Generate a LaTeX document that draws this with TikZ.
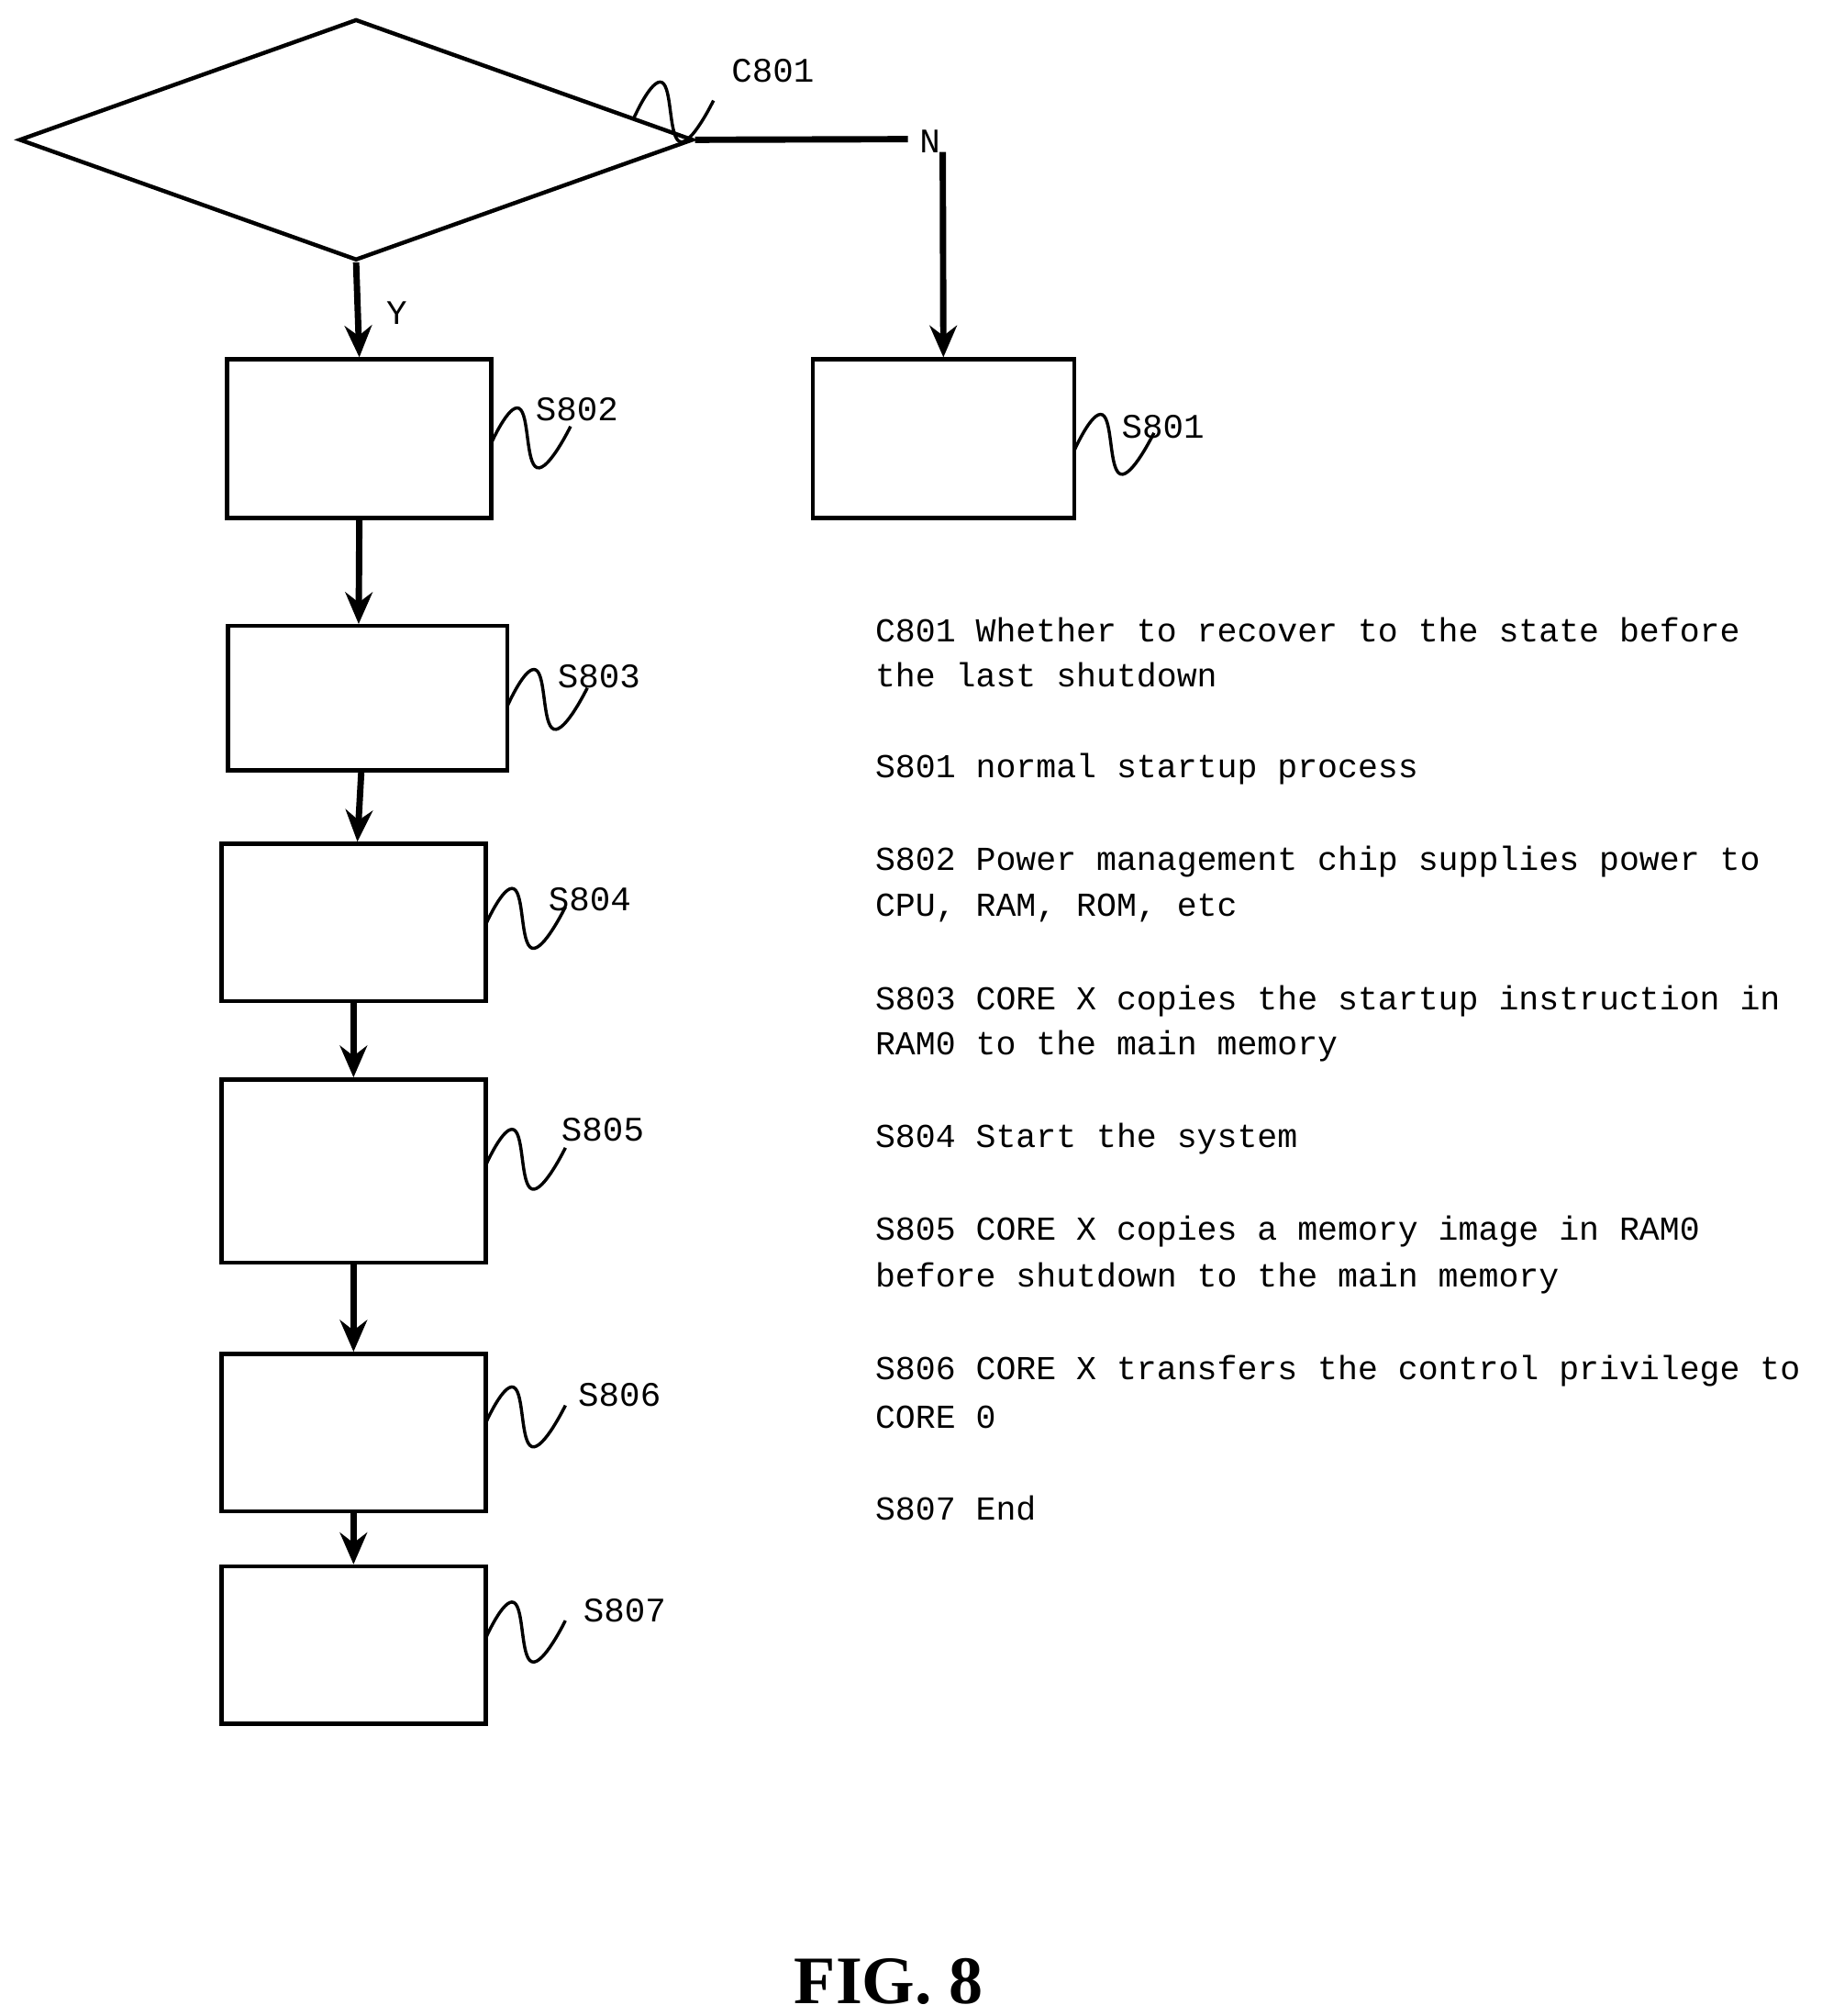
\documentclass[tikz,border=0pt]{standalone}
\usepackage{fontspec}
\setmainfont{Liberation Serif}
\newfontfamily\mono{Liberation Mono}
\usetikzlibrary{shapes.geometric,arrows.meta}
\begin{document}
\begin{tikzpicture}[x=0.01cm,y=-0.01cm,line width=0.9pt,
  box/.style={draw,inner sep=0,minimum width=2.05cm},
  arr/.style={draw,line width=1.4pt,-{Stealth[length=7pt,width=6pt]}},
  lab/.style={font=\mono\fontsize{7.6}{9}\selectfont,inner sep=0},
  txt/.style={font=\mono\fontsize{7.4}{9}\selectfont,anchor=west,inner sep=0},
  sq/.pic={\draw[line width=0.7pt] plot[smooth,tension=0.8] coordinates {(0,0) (22,-28) (36,18) (62,-14)};}]
\useasboundingbox (0,0) rectangle (1414,1565);
\node[draw,diamond,inner sep=0,minimum width=5.23cm,minimum height=1.87cm,shape aspect=2.8] (d) at (276.5,108.5) {};
\node[box,minimum height=1.23cm] (b802) at (279,340.5) {};
\node[box,minimum height=1.23cm,minimum width=2.03cm] (b801) at (732.5,340.5) {};
\node[box,minimum height=1.12cm,minimum width=2.17cm] (b803) at (285.5,542) {};
\node[box,minimum height=1.22cm] (b804) at (274.5,716) {};
\node[box,minimum height=1.42cm] (b805) at (274.5,909) {};
\node[box,minimum height=1.22cm] (b806) at (274.5,1112) {};
\node[box,minimum height=1.22cm] (b807) at (274.5,1277) {};
\coordinate (nend) at (705,108);
\coordinate (ntop) at (732,118);
\draw[line width=1.4pt] (d.east) -- (nend);
\node[lab] (N) at (722,110) {N};
\draw[arr] (ntop) -- (b801.north);
\draw[arr] (d.south) -- (b802.north);
\node[lab] (Y) at (308,243) {Y};
\draw[arr] (b802.south) -- ([xshift=-0.07cm]b803.north);
\draw[arr] ([xshift=-0.05cm]b803.south) -- ([xshift=0.03cm]b804.north);
\draw[arr] (b804.south) -- (b805.north);
\draw[arr] (b805.south) -- (b806.north);
\draw[arr] (b806.south) -- (b807.north);
% squiggles
\pic at (492,92) {sq}; \node[lab] (lc801) at (600,55) {C801};
\pic at (381,345) {sq}; \node[lab] (l802) at (448,318) {S802};
\pic at (834,350) {sq}; \node[lab] (l801) at (903,331) {S801};
\pic at (394,548) {sq}; \node[lab] (l803) at (465,525) {S803};
\pic at (377,718) {sq}; \node[lab] (l804) at (458,698) {S804};
\pic at (377,905) {sq}; \node[lab] (l805) at (468,877) {S805};
\pic at (377,1105) {sq}; \node[lab] (l806) at (481,1083) {S806};
\pic at (377,1272) {sq}; \node[lab] (l807) at (485,1250) {S807};
% legend
\node[txt] (t1) at (678,489) {C801  Whether to recover to the state before};
\node[txt] (t1b) at (678,524) {the last shutdown};
\node[txt] (t2) at (678,597) {S801  normal startup process};
\node[txt] (t3) at (678,669) {S802  Power management chip supplies power to};
\node[txt] (t3b) at (678,705) {CPU, RAM, ROM, etc};
\node[txt] (t4) at (678,777) {S803  CORE X copies the startup instruction in};
\node[txt] (t4b) at (678,812) { RAM0 to the main memory};
\node[txt] (t5) at (678,884) {S804  Start the system};
\node[txt] (t6) at (678,956) {S805  CORE X copies a memory image in RAM0};
\node[txt] (t6b) at (678,992) {before shutdown to the main memory};
\node[txt] (t7) at (678,1064) {S806  CORE X transfers the control privilege to};
\node[txt] (t7b) at (678,1100) {CORE 0};
\node[txt] (t8) at (678,1171) {S807  End};
\node[font=\bfseries\fontsize{15}{18}\selectfont] (fig) at (690,1538) {FIG. 8};
\end{tikzpicture}
\end{document}
